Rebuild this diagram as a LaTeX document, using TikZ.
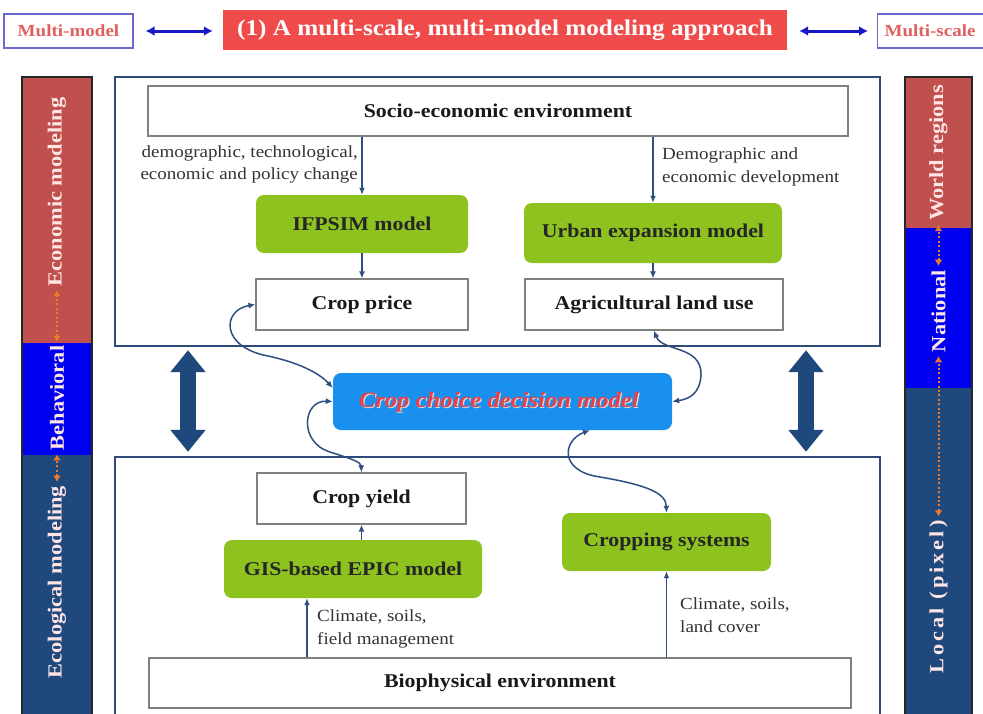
\documentclass[tikz,border=0pt]{standalone}
\usepackage{fontspec}
\setmainfont{Liberation Serif}[FakeStretch=1.12]
\usetikzlibrary{arrows.meta}
\definecolor{barred}{HTML}{C0504D}
\definecolor{barblue}{HTML}{0000F0}
\definecolor{barnavy}{HTML}{1F497D}
\definecolor{framenavy}{HTML}{2E4A78}
\definecolor{boxgreen}{HTML}{8DC21F}
\definecolor{ccblue}{HTML}{1A90EE}
\definecolor{titlered}{HTML}{F04B4B}
\definecolor{mmred}{HTML}{E06060}
\definecolor{mmblue}{HTML}{6A6AD0}
\definecolor{arrowblue}{HTML}{1818C8}
\definecolor{dotorange}{HTML}{F07A2A}
\definecolor{linknavy}{HTML}{2F4F80}
\definecolor{labelgray}{HTML}{333333}
\definecolor{cctext}{HTML}{E8404A}
\begin{document}
\begin{tikzpicture}[x=1pt,y=-1pt,
  boxfont/.style={font=\fontsize{19.5}{23}\selectfont\bfseries},
  whitebox/.style={boxfont, draw=black!50, line width=1.2pt, fill=white, inner sep=0pt, text=black!90},
  greenbox/.style={boxfont, fill=boxgreen, rounded corners=8pt, inner sep=0pt, text=black!85},
  frame/.style={draw=framenavy, line width=2.4pt, inner sep=0pt},
  link/.style={draw=linknavy, line width=1.5pt, -{Latex[length=7pt,width=6pt]}},
  dlink/.style={draw=linknavy, line width=1.5pt, {Latex[length=7pt,width=6pt]}-{Latex[length=7pt,width=6pt]}},
  lbl/.style={font=\fontsize{17}{22}\selectfont, text=labelgray, inner sep=0pt},
  barlbl/.style={rotate=90, font=\fontsize{20}{24}\selectfont\bfseries, text=white!90!red, inner sep=0pt},
  dotarrow/.style={draw=dotorange, line width=2pt, dash pattern=on 2pt off 2.4pt, {Latex[length=6pt,width=8pt]}-{Latex[length=6pt,width=8pt]}},
  bigarrow/.style={draw=barnavy, line width=16pt, {Triangle[length=22pt,width=34pt]}-{Triangle[length=22pt,width=34pt]}},
  toparrow/.style={draw=arrowblue, line width=3pt, {Latex[length=9pt,width=10pt]}-{Latex[length=9pt,width=10pt]}},
  sidebox/.style={draw=mmblue, line width=1.2pt, fill=white, inner sep=0pt, font=\fontsize{17}{20}\selectfont\bfseries, text=mmred}
]
\useasboundingbox (0,0) rectangle (983,713);
\fill[white] (0,0) rectangle (983,713);

% ---------- top row ----------
\node[sidebox, minimum width=129pt, minimum height=34pt] (mm) at (68.5,31) {Multi-model};
\node[fill=titlered, inner sep=0pt, minimum width=564pt, minimum height=40pt,
      font=\fontsize{22.5}{26}\selectfont\bfseries, text=white] (title) at (505,30) {(1) A multi-scale, multi-model modeling approach};
\node[sidebox, minimum height=34pt, text width=118pt, inner xsep=7pt, align=left, anchor=west] (ms) at (877,31) {Multi-scale};
\draw[toparrow, shorten <=12pt, shorten >=10pt] (mm.east) -- (title.west |- mm.east);
\draw[toparrow, shorten <=12pt, shorten >=9pt] (title.east |- ms.west) -- (ms.west);

% ---------- left bar ----------
\fill[barred] (22,77) rectangle (92,343);
\fill[barblue] (22,343) rectangle (92,455);
\fill[barnavy] (22,455) rectangle (92,720);
\draw[black!85, line width=1.5pt] (22,77) rectangle (92,720);
\node[barlbl] (econ) at (57,192) {Economic modeling};
\node[barlbl] (behav) at (57,398) {Behavioral};
\node[barlbl] (ecol) at (57,582) {Ecological modeling};
\draw[dotarrow, shorten <=4pt, shorten >=4pt] (behav.east) -- (econ.west);
\draw[dotarrow, shorten <=4pt, shorten >=4pt] (ecol.east) -- (behav.west);

% ---------- right bar ----------
\fill[barred] (905,77) rectangle (972,228);
\fill[barblue] (905,228) rectangle (972,388);
\fill[barnavy] (905,388) rectangle (972,720);
\draw[black!85, line width=1.5pt] (905,77) rectangle (972,720);
\node[barlbl] (world) at (938.5,153) {World regions};
\node[barlbl] (nat) at (938.5,311) {National};
\node[barlbl] (local) at (938.5,597) {\addfontfeature{LetterSpace=15}Local (pixel)};
\draw[dotarrow, shorten <=4pt, shorten >=4pt] (nat.east) -- (world.west);
\draw[dotarrow, shorten <=4pt, shorten >=4pt] (local.east) -- (nat.west);

% ---------- frames ----------
\node[frame, minimum width=765pt, minimum height=269pt] (upper) at (497.5,211.5) {};
\node[frame, minimum width=765pt, minimum height=268pt] (lower) at (497.5,591) {};

% ---------- upper content ----------
\node[whitebox, minimum width=700pt, minimum height=50pt] (socio) at (498,111) {Socio-economic environment};
\node[greenbox, minimum width=212pt, minimum height=58pt] (ifpsim) at (362,224) {IFPSIM model};
\node[greenbox, minimum width=258pt, minimum height=60pt] (urban) at (653,233) {Urban expansion model};
\node[whitebox, minimum width=212pt, minimum height=51pt] (cprice) at (362,304.5) {Crop price};
\node[whitebox, minimum width=258pt, minimum height=51pt] (agri) at (654,304.5) {Agricultural land use};

\node[lbl, align=right, anchor=north east] (lab1) at (358,145.4) {demographic, technological,\\economic and policy change};
\node[lbl, align=left, anchor=north west, font=\fontsize{17}{23}\selectfont] (lab2) at (662,147.4) {Demographic and\\economic development};

\draw[link] (socio.south -| ifpsim.north) -- (ifpsim.north);
\draw[link] (ifpsim.south) -- (cprice.north);
\draw[link] (socio.south -| urban.north) -- (urban.north);
\draw[link] (urban.south) -- (urban.south |- agri.north);

% ---------- middle ----------
\node[fill=ccblue, rounded corners=8pt, inner sep=0pt, minimum width=339pt, minimum height=57pt] (cc) at (502.5,401.5) {};
\node[font=\fontsize{22}{26}\selectfont\bfseries\itshape, text=white!70!gray, inner sep=0pt] (ccshadow) at (500,403) {Crop choice decision model};
\node[font=\fontsize{22}{26}\selectfont\bfseries\itshape, text=cctext, inner sep=0pt] (cctxt) at (498.8,401.8) {Crop choice decision model};

\coordinate (la) at (188,0);
\coordinate (ra) at (806,0);
\draw[bigarrow, shorten <=3pt, shorten >=4pt] (la |- upper.south) -- (la |- lower.north);
\draw[bigarrow, shorten <=3pt, shorten >=4pt] (ra |- upper.south) -- (ra |- lower.north);

% ---------- lower content ----------
\node[whitebox, minimum width=209pt, minimum height=51pt] (cyield) at (361.5,498.5) {Crop yield};
\node[greenbox, minimum width=258pt, minimum height=58pt] (gis) at (353,569) {GIS-based EPIC model};
\node[greenbox, minimum width=209pt, minimum height=58pt] (cropsys) at (666.5,542) {Cropping systems};
\node[whitebox, minimum width=702pt, minimum height=50pt] (bio) at (500,683) {Biophysical environment};

\node[lbl, align=left, anchor=north west, font=\fontsize{17}{23}\selectfont] (lab3) at (317,609.4) {Climate, soils,\\field management};
\node[lbl, align=left, anchor=north west, font=\fontsize{17}{23}\selectfont] (lab4) at (680,597.4) {Climate, soils,\\land cover};

\coordinate (gx) at (307,0);
\draw[link] (gx |- bio.north) -- (gx |- gis.south);
\draw[link] (cyield.south |- gis.north) -- (cyield.south);
\draw[link] (cropsys.south |- bio.north) -- (cropsys.south);

% ---------- curved two-way links ----------
\draw[dlink] (cprice.west) .. controls (222,310) and (220,347) .. (268,356)
   .. controls (305,364) and (322,376) .. ([yshift=13.5pt]cc.west);
\draw[dlink] (cc.west) .. controls (303,400) and (298,442) .. (330,452)
   .. controls (352,459) and (361,462) .. (cyield.north);
\draw[dlink] (agri.south) .. controls (662,352) and (702,345) .. (701,375)
   .. controls (700,393) and (690,399) .. (cc.east);
\draw[dlink] ([xshift=87.5pt]cc.south) .. controls (563,440) and (558,471) .. (600,477)
   .. controls (647,485) and (666,493) .. (cropsys.north);
\end{tikzpicture}
\end{document}
